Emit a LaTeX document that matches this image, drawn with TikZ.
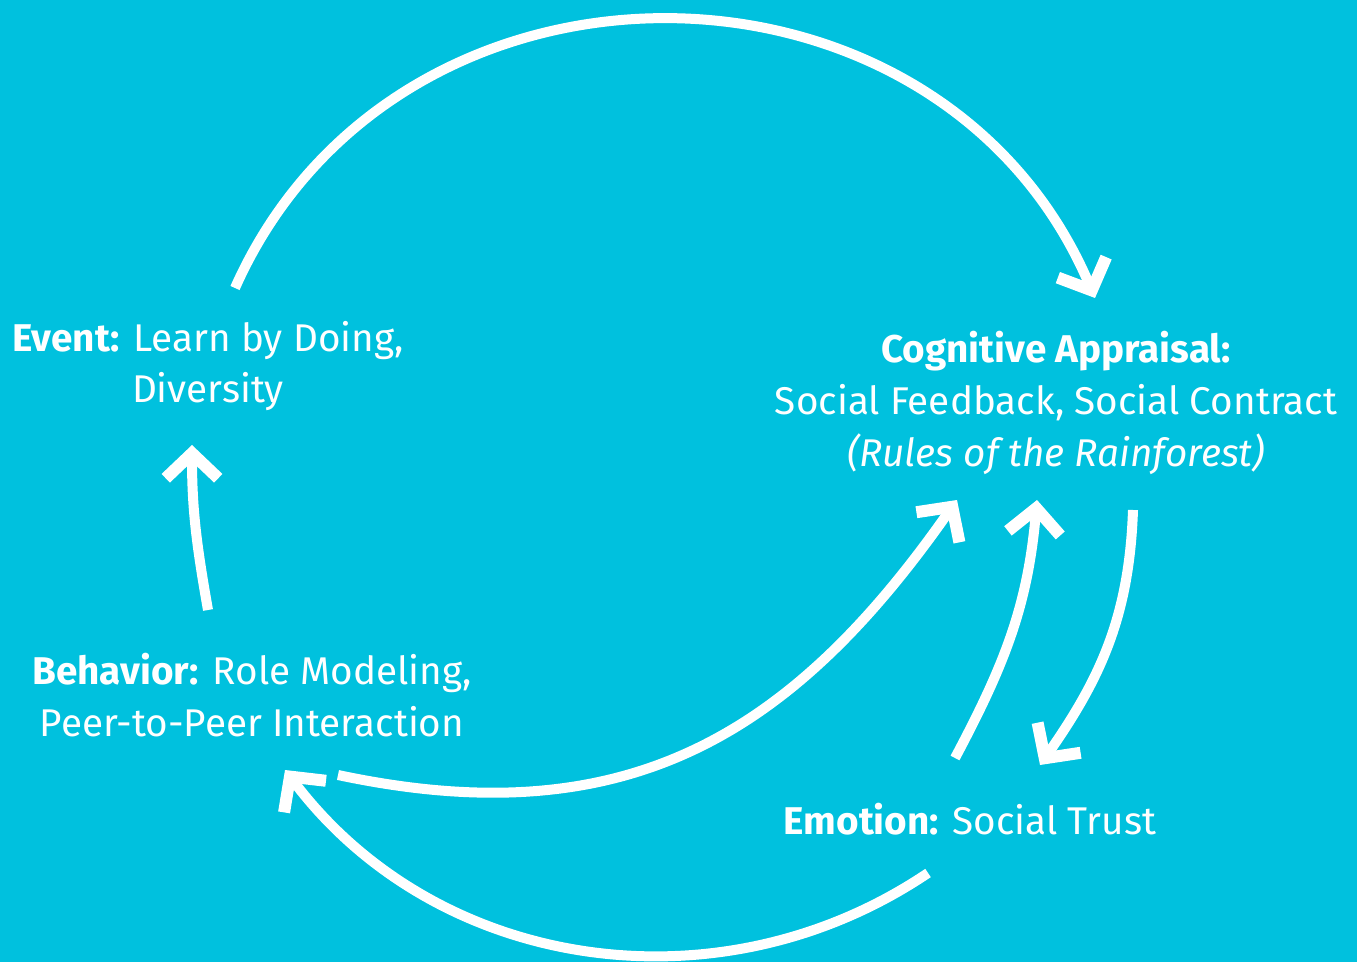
\documentclass[tikz,border=0pt]{standalone}
\usepackage{fontspec}
\setmainfont{Fira Sans}
\usetikzlibrary{arrows.meta}
\definecolor{lagoon}{HTML}{00C1DE}
\tikzset{
    stage/.style={text=white, align=center, inner sep=0pt, font=\fontsize{22}{29.5}\selectfont},
    feedback/.style={-{Straight Barb[length=5mm, width=10.5mm, sharp, line width=2.4mm]}, line width=2mm, white}
}

\begin{document}
\begin{tikzpicture}[x=0.2mm, y=0.2mm]
    % background
    \fill[lagoon] (0,0) rectangle (1357,962);
    \useasboundingbox (0,0) rectangle (1357,962);

    % the four stages
    \node[stage] (event) at (208,596) {\textbf{Event:} Learn by Doing,\\Diversity};
    \node[stage] (appraisal) at (1056,559) {\textbf{Cognitive Appraisal:}\\Social Feedback, Social Contract\\\textit{(Rules of the Rainforest)}};
    \node[stage] (behavior) at (252,267) {\textbf{Behavior:} Role Modeling,\\Peer-to-Peer Interaction};
    \node[stage] (emotion) at (970,143) {\textbf{Emotion:} Social Trust};

    % outer circle: event -> appraisal, emotion -> behavior
    \draw[feedback] ([shift={(27,78)}]event.center) to[out=66, in=113, looseness=1.18] ([shift={(39,105)}]appraisal.center);
    \draw[feedback] ([shift={(-42,-54)}]emotion.center) to[out=-146, in=-53, looseness=0.99] ([shift={(33,-75)}]behavior.center);

    % appraisal <-> emotion
    \draw[feedback] ([shift={(77,-107)}]appraisal.center) to[out=-92, in=55] ([shift={(70,54)}]emotion.center);
    \draw[feedback] ([shift={(-15,61)}]emotion.center) to[out=62, in=-95] ([shift={(-19,-97)}]appraisal.center);

    % behavior -> appraisal, behavior -> event
    \draw[feedback] ([shift={(86,-80)}]behavior.center) to[out=-12, in=235, looseness=1.1] ([shift={(-99,-97)}]appraisal.center);
    \draw[feedback] ([shift={(-44,85)}]behavior.center) to[out=100, in=-90] ([shift={(-16,-79)}]event.center);
\end{tikzpicture}
\end{document}
